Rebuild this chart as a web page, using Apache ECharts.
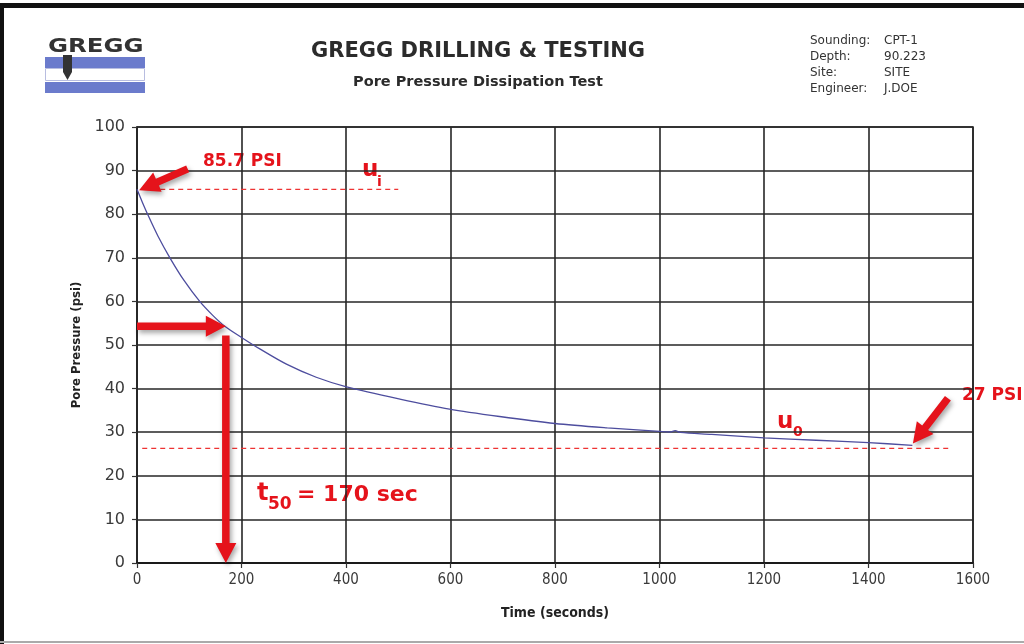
<!DOCTYPE html>
<html>
<head>
<meta charset="utf-8">
<title>Pore Pressure Dissipation Test</title>
<script src="https://cdn.jsdelivr.net/npm/echarts@6/dist/echarts.min.js"></script>
<style>
  html, body { margin: 0; padding: 0; background: #ffffff; }
  #chart { width: 1024px; height: 644px; }
</style>
</head>
<body>
<div id="chart"></div>
<script>
// Dissipation record: elapsed time (s) and pore pressure (psi)
const timeSec = [0, 10, 21, 40, 63, 90, 120, 145, 168, 203, 235, 286, 343, 401, 503, 598, 694, 800, 900, 1000, 1020, 1030, 1040, 1100, 1200, 1300, 1400, 1484];
const porePsi = [85.7, 82.8, 79.8, 75.0, 70.0, 64.8, 60.0, 56.8, 54.3, 51.5, 49.1, 45.6, 42.6, 40.4, 37.6, 35.3, 33.6, 32.0, 31.0, 30.2, 30.05, 30.35, 29.95, 29.5, 28.7, 28.15, 27.6, 27.0];

// Key values
const initialPsi = 85.7;      // u_i
const finalPsi = 27;          // last reading
const hydrostaticPsi = 26.3;  // u_0
const t50Sec = 170;
const u50Psi = 54.3;

// Reference lines [t, p] pairs
const uiLine = [[10, initialPsi], [500, initialPsi]];
const u0Line = [[10, hydrostaticPsi], [1556, hydrostaticPsi]];

// Arrows: [tailTime, tailPsi, tipTime, tipPsi]
const arrows = [
  [97, 90.4, 4, 85.5],
  [1552, 37.8, 1485, 27.4],
  [0, u50Psi, t50Sec, u50Psi],
  [t50Sec, 52.2, t50Sec, 0]
];

// Axis ticks
const xTicks = { min: 0, max: 1600, interval: 200 };
const yTicks = { min: 0, max: 100, interval: 10 };

const RED = '#e5131b';
const GRID = '#262626';
const ANNO_FONT = 'DejaVu Sans';

const chart = echarts.init(document.getElementById('chart'), null, { renderer: 'canvas' });

// Block arrow drawn between two data points
function arrowItem(params, api) {
  const a = api.coord([api.value(0), api.value(1)]);
  const b = api.coord([api.value(2), api.value(3)]);
  const dx = b[0] - a[0], dy = b[1] - a[1];
  const len = Math.sqrt(dx * dx + dy * dy) || 1;
  const ux = dx / len, uy = dy / len;
  const nx = -uy, ny = ux;
  const shaft = 7.5, headW = 21, headL = 20;
  const neck = [b[0] - ux * headL, b[1] - uy * headL];
  const pts = [
    [a[0] + nx * shaft / 2, a[1] + ny * shaft / 2],
    [neck[0] + nx * shaft / 2, neck[1] + ny * shaft / 2],
    [neck[0] + nx * headW / 2, neck[1] + ny * headW / 2],
    [b[0], b[1]],
    [neck[0] - nx * headW / 2, neck[1] - ny * headW / 2],
    [neck[0] - nx * shaft / 2, neck[1] - ny * shaft / 2],
    [a[0] - nx * shaft / 2, a[1] - ny * shaft / 2]
  ];
  return {
    type: 'polygon',
    shape: { points: pts },
    style: {
      fill: RED,
      shadowBlur: 5,
      shadowColor: 'rgba(0,0,0,0.35)',
      shadowOffsetX: 2,
      shadowOffsetY: 3
    }
  };
}

function txt(x, y, text, font, fill, align, vAlign, extra, styleExtra) {
  return Object.assign({
    type: 'text',
    x: x, y: y,
    silent: true,
    style: Object.assign({
      text: text,
      font: font,
      fill: fill,
      textAlign: align || 'left',
      textVerticalAlign: vAlign || 'middle'
    }, styleExtra || {})
  }, extra || {});
}

const shadowText = { shadowBlur: 4, shadowColor: 'rgba(0,0,0,0.35)', shadowOffsetX: 2, shadowOffsetY: 2 };

function redText(x, y, text, size, styleExtra) {
  return txt(x, y, text, 'bold ' + size + 'px "' + ANNO_FONT + '"', RED, 'left', 'middle', null, styleExtra);
}

const graphics = [
  // frame
  { type: 'rect', shape: { x: 0, y: 3, width: 1024, height: 5 }, style: { fill: '#111' }, silent: true },
  { type: 'rect', shape: { x: 0, y: 3, width: 4, height: 641 }, style: { fill: '#111' }, silent: true },
  { type: 'rect', shape: { x: 0, y: 641, width: 1024, height: 2 }, style: { fill: '#aaa' }, silent: true },

  // logo
  { type: 'rect', shape: { x: 45, y: 57, width: 100, height: 11 }, style: { fill: '#6b7bcc' }, silent: true },
  { type: 'rect', shape: { x: 45.5, y: 68.5, width: 99, height: 12 }, style: { fill: '#fff', stroke: '#b8bde0', lineWidth: 1 }, silent: true },
  { type: 'rect', shape: { x: 45, y: 82, width: 100, height: 11 }, style: { fill: '#6b7bcc' }, silent: true },
  txt(48, 47, 'GREGG', 'bold 20px "DejaVu Sans"', '#333', 'left', 'middle', { scaleX: 1.22 }),
  { type: 'polygon', shape: { points: [[63, 55], [72, 55], [72, 72], [67.5, 80], [63, 72]] }, style: { fill: '#333' }, silent: true },

  // titles
  txt(478, 52, 'GREGG DRILLING & TESTING', 'bold 21px "DejaVu Sans"', '#2b2b2b', 'center', 'middle'),
  txt(478, 82, 'Pore Pressure Dissipation Test', 'bold 14.5px "DejaVu Sans"', '#2b2b2b', 'center', 'middle'),

  // info block
  txt(810, 41, 'Sounding:', '12px "DejaVu Sans"', '#333'),
  txt(810, 57, 'Depth:', '12px "DejaVu Sans"', '#333'),
  txt(810, 73, 'Site:', '12px "DejaVu Sans"', '#333'),
  txt(810, 89, 'Engineer:', '12px "DejaVu Sans"', '#333'),
  txt(884, 41, 'CPT-1', '12px "DejaVu Sans"', '#333'),
  txt(884, 57, '90.223', '12px "DejaVu Sans"', '#333'),
  txt(884, 73, 'SITE', '12px "DejaVu Sans"', '#333'),
  txt(884, 89, 'J.DOE', '12px "DejaVu Sans"', '#333'),

  // axis titles
  txt(555, 613, 'Time (seconds)', 'bold 14px "DejaVu Sans Condensed"', '#222', 'center', 'middle'),
  txt(77, 345, 'Pore Pressure (psi)', 'bold 13px "DejaVu Sans Condensed"', '#222', 'center', 'middle', { rotation: Math.PI / 2 }),

  // annotations
  redText(203, 162, initialPsi + ' PSI', 17, shadowText),
  redText(962, 396, finalPsi + ' PSI', 17, shadowText),
  redText(362, 170, 'u', 23),
  redText(377, 182, 'i', 14),
  redText(777, 422, 'u', 23),
  redText(793, 432, '0', 14),
  redText(257, 494, 't', 24),
  redText(268, 505, '50', 17),
  redText(297, 495, '= ' + t50Sec + ' sec', 22)
];

const plainNumber = v => String(v);

const option = {
  animation: false,
  backgroundColor: '#ffffff',
  grid: {
    left: 137, right: 51, top: 127, bottom: 81,
    show: true, borderColor: GRID, borderWidth: 1.6, backgroundColor: 'transparent'
  },
  xAxis: {
    type: 'value',
    min: xTicks.min, max: xTicks.max, interval: xTicks.interval,
    axisLine: { show: true, onZero: false, lineStyle: { color: '#1a1a1a', width: 2.2 } },
    axisTick: { show: true, length: 5, lineStyle: { color: '#333', width: 1.2 } },
    axisLabel: { color: '#3a3a3a', fontFamily: 'DejaVu Sans Condensed', fontSize: 15, margin: 10, formatter: plainNumber },
    splitLine: { show: true, lineStyle: { color: GRID, width: 1.6 } }
  },
  yAxis: {
    type: 'value',
    min: yTicks.min, max: yTicks.max, interval: yTicks.interval,
    axisLine: { show: true, lineStyle: { color: GRID, width: 1.6 } },
    axisTick: { show: true, length: 5, lineStyle: { color: '#333', width: 1.2 } },
    axisLabel: { color: '#3a3a3a', fontFamily: 'DejaVu Sans', fontSize: 16, margin: 12, formatter: plainNumber },
    splitLine: { show: true, lineStyle: { color: GRID, width: 1.6 } }
  },
  series: [
    {
      name: 'u_i',
      type: 'line',
      data: uiLine,
      showSymbol: false,
      silent: true,
      lineStyle: { color: '#ee3333', width: 1.1, type: [5, 4] }
    },
    {
      name: 'u_0',
      type: 'line',
      data: u0Line,
      showSymbol: false,
      silent: true,
      lineStyle: { color: '#ee3333', width: 1.1, type: [5, 4] }
    },
    {
      name: 'Pore pressure',
      type: 'line',
      data: timeSec.map((t, i) => [t, porePsi[i]]),
      showSymbol: false,
      smooth: 0.3,
      silent: true,
      lineStyle: { color: '#4d4d9e', width: 1.3 }
    },
    {
      name: 'arrows',
      type: 'custom',
      renderItem: arrowItem,
      data: arrows,
      encode: { x: [0, 2], y: [1, 3] },
      clip: false,
      silent: true,
      z: 10
    }
  ],
  graphic: { elements: graphics }
};

chart.setOption(option);
</script>
</body>
</html>
